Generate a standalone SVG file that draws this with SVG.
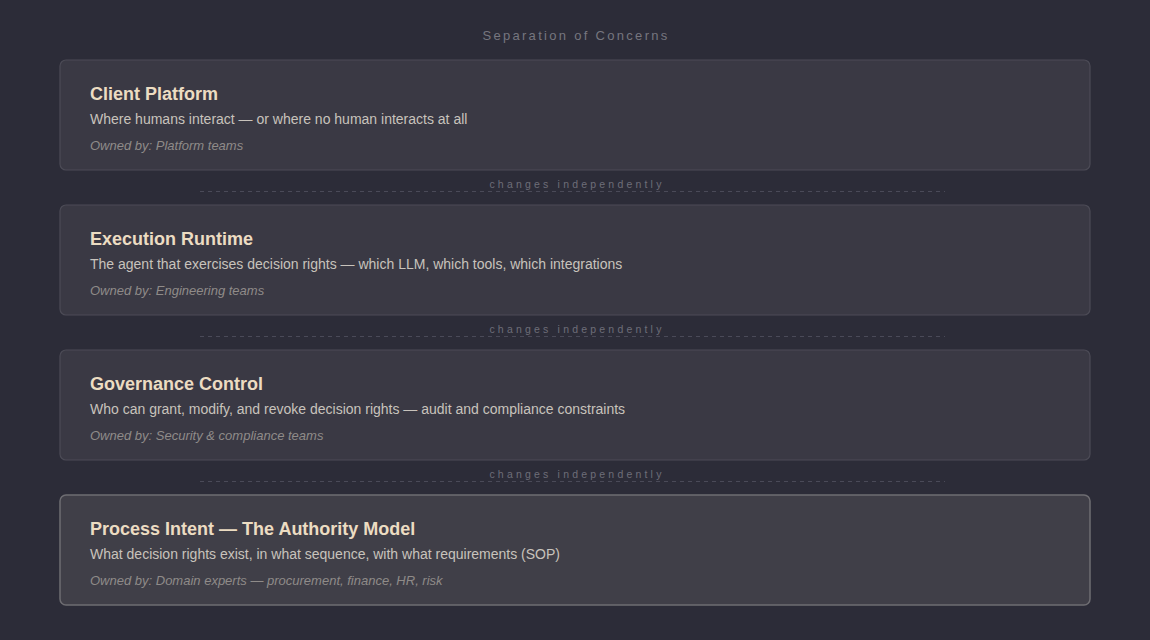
<svg xmlns="http://www.w3.org/2000/svg" width="1150" height="640" viewBox="0 0 1150 640">
<style>
.bg{fill:#2c2c38}
.box{fill:#3a3944;stroke:#4c4b56;stroke-width:1.2}
.box.hl{fill:#403f48;stroke:#6e6d72;stroke-width:1.5}
.t{font-family:"Liberation Sans",Arial,sans-serif;font-size:18px;font-weight:bold;fill:#ecdcc2}
.d{font-family:"Liberation Sans",Arial,sans-serif;font-size:14px;fill:#c8c3bc}
.o{font-family:"Liberation Sans",Arial,sans-serif;font-size:13px;font-style:italic;fill:#8f8b89}
.h{font-family:"Liberation Sans",Arial,sans-serif;font-size:13px;fill:#76767f;letter-spacing:2.3px;text-anchor:middle}
.c{font-family:"Liberation Sans",Arial,sans-serif;font-size:10.5px;fill:#6e6e78;letter-spacing:3.2px;text-anchor:middle}
.dash{stroke:#4a4a58;stroke-width:1;stroke-dasharray:4 4}
</style>
<rect class="bg" width="1150" height="640"/>
<text class="h" x="576" y="40">Separation of Concerns</text>
<g id="connectors">
<line class="dash" x1="200" y1="191.5" x2="945" y2="191.5"/>
<text class="c" x="577" y="188">changes independently</text>
<line class="dash" x1="200" y1="336.5" x2="945" y2="336.5"/>
<text class="c" x="577" y="333">changes independently</text>
<line class="dash" x1="200" y1="481.5" x2="945" y2="481.5"/>
<text class="c" x="577" y="478">changes independently</text>
</g>
<g id="client-platform">
<rect class="box" x="60" y="60" width="1030" height="110" rx="6"/>
<text class="t" x="90" y="100">Client Platform</text>
<text class="d" x="90" y="124">Where humans interact — or where no human interacts at all</text>
<text class="o" x="90" y="150">Owned by: Platform teams</text>
</g>
<g id="execution-runtime">
<rect class="box" x="60" y="205" width="1030" height="110" rx="6"/>
<text class="t" x="90" y="245">Execution Runtime</text>
<text class="d" x="90" y="269">The agent that exercises decision rights — which LLM, which tools, which integrations</text>
<text class="o" x="90" y="295">Owned by: Engineering teams</text>
</g>
<g id="governance-control">
<rect class="box" x="60" y="350" width="1030" height="110" rx="6"/>
<text class="t" x="90" y="390">Governance Control</text>
<text class="d" x="90" y="414">Who can grant, modify, and revoke decision rights — audit and compliance constraints</text>
<text class="o" x="90" y="440">Owned by: Security &amp; compliance teams</text>
</g>
<g id="process-intent">
<rect class="box hl" x="60" y="495" width="1030" height="110" rx="6"/>
<text class="t" x="90" y="535">Process Intent — The Authority Model</text>
<text class="d" x="90" y="559">What decision rights exist, in what sequence, with what requirements (SOP)</text>
<text class="o" x="90" y="585">Owned by: Domain experts — procurement, finance, HR, risk</text>
</g>
</svg>
